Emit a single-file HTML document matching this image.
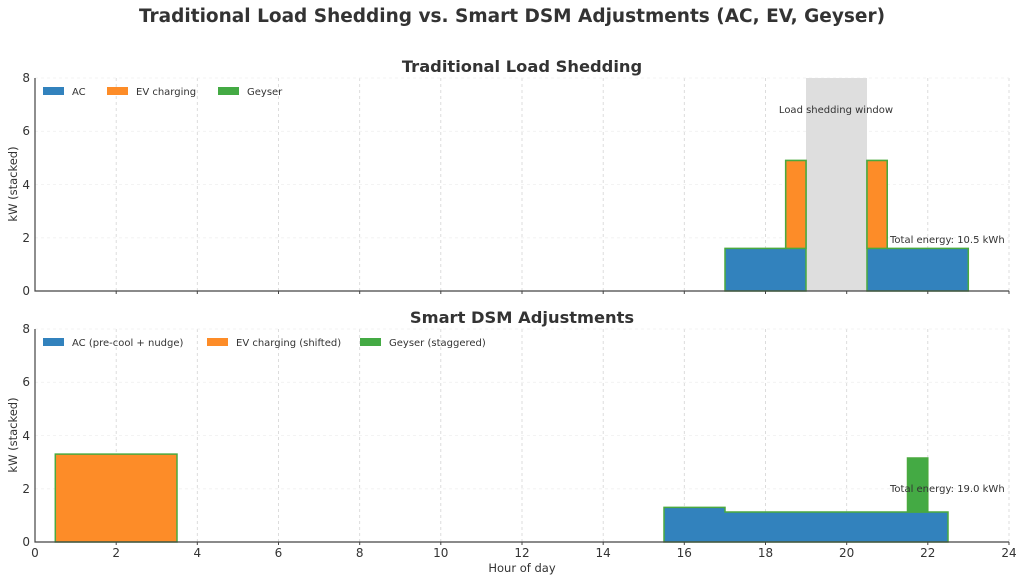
<!DOCTYPE html>
<html><head><meta charset="utf-8"><style>body{margin:0;background:#fff}svg{display:block;font-family:"DejaVu Sans","Liberation Sans",sans-serif}</style></head><body>
<svg width="1024" height="581" viewBox="0 0 1024 581" xmlns="http://www.w3.org/2000/svg">
<text x="512" y="22" text-anchor="middle" font-size="18.5" font-weight="bold" fill="#333">Traditional Load Shedding vs. Smart DSM Adjustments (AC, EV, Geyser)</text>
<g stroke="#d4d4d4" stroke-width="0.8" stroke-dasharray="3,3">
<line x1="116.2" y1="78" x2="116.2" y2="291"/><line x1="197.3" y1="78" x2="197.3" y2="291"/><line x1="278.5" y1="78" x2="278.5" y2="291"/><line x1="359.7" y1="78" x2="359.7" y2="291"/><line x1="440.8" y1="78" x2="440.8" y2="291"/><line x1="522" y1="78" x2="522" y2="291"/><line x1="603.2" y1="78" x2="603.2" y2="291"/><line x1="684.3" y1="78" x2="684.3" y2="291"/><line x1="765.5" y1="78" x2="765.5" y2="291"/><line x1="846.7" y1="78" x2="846.7" y2="291"/><line x1="927.8" y1="78" x2="927.8" y2="291"/><line x1="1009" y1="78" x2="1009" y2="291"/>
<line x1="116.2" y1="329" x2="116.2" y2="542"/><line x1="197.3" y1="329" x2="197.3" y2="542"/><line x1="278.5" y1="329" x2="278.5" y2="542"/><line x1="359.7" y1="329" x2="359.7" y2="542"/><line x1="440.8" y1="329" x2="440.8" y2="542"/><line x1="522" y1="329" x2="522" y2="542"/><line x1="603.2" y1="329" x2="603.2" y2="542"/><line x1="684.3" y1="329" x2="684.3" y2="542"/><line x1="765.5" y1="329" x2="765.5" y2="542"/><line x1="846.7" y1="329" x2="846.7" y2="542"/><line x1="927.8" y1="329" x2="927.8" y2="542"/><line x1="1009" y1="329" x2="1009" y2="542"/>
</g>
<g stroke="#f0f0f0" stroke-width="0.8" stroke-dasharray="3,3">
<line x1="35" y1="237.8" x2="1009" y2="237.8"/><line x1="35" y1="184.5" x2="1009" y2="184.5"/><line x1="35" y1="131.3" x2="1009" y2="131.3"/><line x1="35" y1="78" x2="1009" y2="78"/>
<line x1="35" y1="488.8" x2="1009" y2="488.8"/><line x1="35" y1="435.5" x2="1009" y2="435.5"/><line x1="35" y1="382.3" x2="1009" y2="382.3"/><line x1="35" y1="329" x2="1009" y2="329"/>
</g>
<text x="522" y="72" text-anchor="middle" font-size="16.3" font-weight="bold" fill="#333">Traditional Load Shedding</text>
<rect x="806" y="78" width="61" height="213" fill="#dedede"/>
<g stroke="#4aa93f" stroke-width="1.5">
<polygon points="725,291 725,248.4 785.7,248.4 785.7,160.5 806,160.5 806,291" fill="#3282bd"/>
<rect x="785.7" y="160.5" width="20.3" height="87.9" fill="#fd8c28"/>
<polygon points="867,291 867,160.5 887.2,160.5 887.2,248.4 968.3,248.4 968.3,291" fill="#3282bd"/>
<rect x="867" y="160.5" width="20.2" height="87.9" fill="#fd8c28"/>
</g>
<text x="836" y="113" text-anchor="middle" font-size="10" fill="#333">Load shedding window</text>
<text x="890" y="243" font-size="10" fill="#333">Total energy: 10.5 kWh</text>
<text x="522" y="323" text-anchor="middle" font-size="16.3" font-weight="bold" fill="#333">Smart DSM Adjustments</text>
<g stroke="#4aa93f" stroke-width="1.5">
<rect x="55.3" y="454.1" width="121.7" height="87.9" fill="#fd8c28"/>
<polygon points="664,542 664,507.4 725,507.4 725,512 948,512 948,542" fill="#3282bd"/>
<rect x="907.5" y="458" width="20.3" height="54" fill="#44aa44"/>
</g>
<text x="890" y="492" font-size="10" fill="#333">Total energy: 19.0 kWh</text>
<g stroke="#444" stroke-width="1.2" fill="none">
<path d="M35,78 V291 H1009"/><path d="M35,329 V542 H1009"/>
</g>
<g stroke="#444" stroke-width="1">
<path d="M116.2,291v3M197.3,291v3M278.5,291v3M359.7,291v3M440.8,291v3M522,291v3M603.2,291v3M684.3,291v3M765.5,291v3M846.7,291v3M927.8,291v3M1009,291v3"/>
<path d="M116.2,542v3M197.3,542v3M278.5,542v3M359.7,542v3M440.8,542v3M522,542v3M603.2,542v3M684.3,542v3M765.5,542v3M846.7,542v3M927.8,542v3M1009,542v3"/>
</g>
<g font-size="12" fill="#333" text-anchor="end">
<text x="30" y="295">0</text><text x="30" y="242">2</text><text x="30" y="189">4</text><text x="30" y="135">6</text><text x="30" y="82">8</text>
<text x="30" y="546">0</text><text x="30" y="493">2</text><text x="30" y="440">4</text><text x="30" y="386">6</text><text x="30" y="333">8</text>
</g>
<g font-size="12" fill="#333" text-anchor="middle">
<text x="35" y="557">0</text><text x="116.2" y="557">2</text><text x="197.3" y="557">4</text><text x="278.5" y="557">6</text><text x="359.7" y="557">8</text><text x="440.8" y="557">10</text><text x="522" y="557">12</text><text x="603.2" y="557">14</text><text x="684.3" y="557">16</text><text x="765.5" y="557">18</text><text x="846.7" y="557">20</text><text x="927.8" y="557">22</text><text x="1009" y="557">24</text>
<text x="522" y="572" font-size="11.5">Hour of day</text>
</g>
<text transform="translate(17,184) rotate(-90)" text-anchor="middle" font-size="11.5" fill="#333">kW (stacked)</text>
<text transform="translate(17,435) rotate(-90)" text-anchor="middle" font-size="11.5" fill="#333">kW (stacked)</text>
<g font-size="10" fill="#333">
<rect x="43" y="87" width="21" height="8" fill="#3282bd"/><text x="72" y="95">AC</text>
<rect x="107" y="87" width="21" height="8" fill="#fd8c28"/><text x="136" y="95">EV charging</text>
<rect x="218" y="87" width="21" height="8" fill="#44aa44"/><text x="247" y="95">Geyser</text>
<rect x="43" y="338" width="21" height="8" fill="#3282bd"/><text x="72" y="346">AC (pre-cool + nudge)</text>
<rect x="207" y="338" width="21" height="8" fill="#fd8c28"/><text x="236" y="346">EV charging (shifted)</text>
<rect x="360" y="338" width="21" height="8" fill="#44aa44"/><text x="389" y="346">Geyser (staggered)</text>
</g>
</svg>
</body></html>
